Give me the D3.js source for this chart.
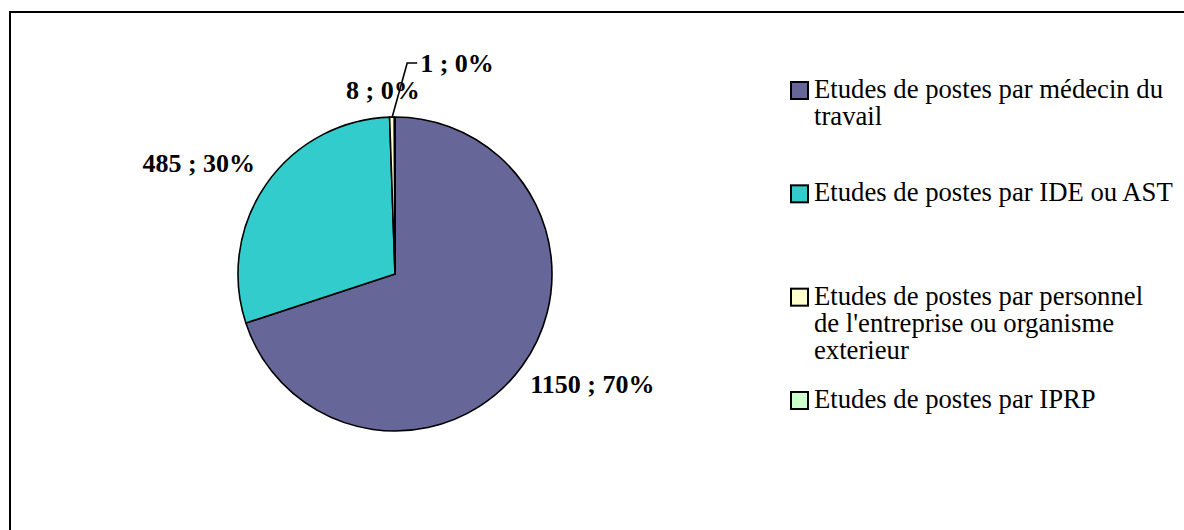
<!DOCTYPE html>
<html>
<head>
<meta charset="utf-8">
<script src="https://cdn.jsdelivr.net/npm/d3@7/dist/d3.min.js"></script>
<style>
  html, body { margin: 0; padding: 0; background: #fff; }
  svg { display: block; }
</style>
</head>
<body>
<svg id="chart" width="1184" height="530"></svg>
<script>
// ---- data ----
const categories = [
  "Etudes de postes par médecin du travail",
  "Etudes de postes par IDE ou AST",
  "Etudes de postes par personnel de l'entreprise ou organisme exterieur",
  "Etudes de postes par IPRP"
];
const legendLines = [
  ["Etudes de postes par médecin du", "travail"],
  ["Etudes de postes par IDE ou AST"],
  ["Etudes de postes par personnel", "de l'entreprise ou organisme", "exterieur"],
  ["Etudes de postes par IPRP"]
];
const values = [1150, 485, 8, 1];
const percentLabels = ["70%", "30%", "0%", "0%"];
const colors = ["#666699", "#33CCCC", "#FFFFCC", "#CCFFCC"];

// ---- layout ----
const svg = d3.select("#chart");
const W = 1184, H = 530;
const cx = 395, cy = 274, r = 157;
const serif = "'Liberation Serif', 'Times New Roman', Times, serif";

// outer frame (extends past the right and bottom edges)
svg.append("rect")
  .attr("x", 10).attr("y", 12)
  .attr("width", 1400).attr("height", 700)
  .attr("fill", "#fff")
  .attr("stroke", "#000").attr("stroke-width", 2);

const pie = d3.pie().sort(null).value(d => d)
  .startAngle(0).endAngle(2 * Math.PI);
const arcs = pie(values);
const arc = d3.arc().innerRadius(0).outerRadius(r);

const g = svg.append("g").attr("transform", `translate(${cx},${cy})`);
g.selectAll("path.slice")
  .data(arcs)
  .join("path")
  .attr("class", "slice")
  .attr("d", arc)
  .attr("fill", (d, i) => colors[i])
  .attr("stroke", "#000")
  .attr("stroke-width", 1.6)
  .attr("stroke-linejoin", "round");

// data labels
const R = r + 10;
function pt(a, rad) { return [rad * Math.sin(a), -rad * Math.cos(a)]; }
const labelCfg = [
  { anchor: "start", dx: 0, dy: 21 },
  { anchor: "end", dx: -3, dy: -6.5 },
  { anchor: "middle", dx: -9, dy: -8 },
  { anchor: "start", dx: 28, dy: -45, leader: true }
];
arcs.forEach((d, i) => {
  const mid = (d.startAngle + d.endAngle) / 2;
  const p = pt(mid, R);
  const cfg = labelCfg[i];
  const txt = `${values[i]} ; ${percentLabels[i]}`;
  if (cfg.leader) {
    const e = pt(mid, r);
    const ex = e[0] - 2.5, ey = e[1];
    g.append("path")
      .attr("d", `M${ex},${ey} L${ex + 15},${ey - 54} L${ex + 25},${ey - 54}`)
      .attr("fill", "none").attr("stroke", "#000").attr("stroke-width", 1.6);
    g.append("text")
      .attr("x", ex + 28).attr("y", ey - 45)
      .attr("text-anchor", "start")
      .attr("font-family", serif).attr("font-weight", "bold")
      .attr("font-size", 26).attr("fill", "#000")
      .text(txt);
  } else {
    g.append("text")
      .attr("x", p[0] + cfg.dx).attr("y", p[1] + cfg.dy)
      .attr("text-anchor", cfg.anchor)
      .attr("font-family", serif).attr("font-weight", "bold")
      .attr("font-size", 26).attr("fill", "#000")
      .text(txt);
  }
});

// legend
const ly = d3.scaleLinear().domain([0, 3]).range([98, 408]);
const legend = svg.append("g");
categories.forEach((c, i) => {
  const base = ly(i);
  legend.append("rect")
    .attr("x", 791).attr("y", base - 16)
    .attr("width", 17).attr("height", 17)
    .attr("fill", colors[i])
    .attr("stroke", "#000").attr("stroke-width", 2);
  const t = legend.append("text")
    .attr("x", 814).attr("y", base)
    .attr("font-family", serif)
    .attr("font-size", 26.7).attr("fill", "#000");
  legendLines[i].forEach((ln, j) => {
    t.append("tspan").attr("x", 814).attr("y", base + j * 27).text(ln);
  });
});
</script>
</body>
</html>
